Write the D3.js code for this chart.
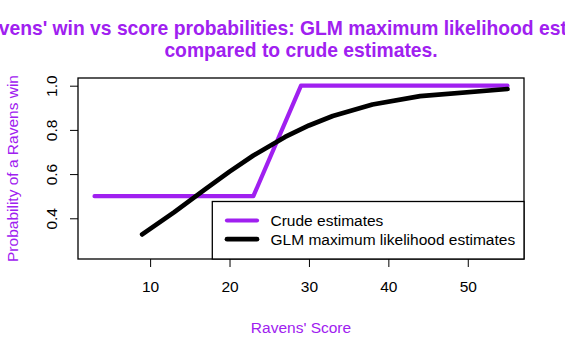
<!DOCTYPE html>
<html><head><meta charset="utf-8">
<script src="https://cdn.jsdelivr.net/npm/d3@7"></script>
<style>body{margin:0;background:#fff}svg{display:block}text{font-family:"Liberation Sans",Arial,sans-serif}</style>
</head><body><svg id="c" width="565" height="357"></svg>
<script>
const crudeScores = [3, 23, 29, 55];
const crudeProbs = [0.5, 0.5, 1.0, 1.0];
const glmScores = [9, 13, 17, 20, 23, 27, 30, 33, 38, 44, 55];
const glmProbs = [0.327, 0.427, 0.533, 0.611, 0.684, 0.768, 0.820, 0.863, 0.915, 0.953, 0.985];
const xTicks = [10, 20, 30, 40, 50];
const yTicks = [0.4, 0.6, 0.8, 1.0];
const legendLabels = ["Crude estimates", "GLM maximum likelihood estimates"];
const titleLines = ["Ravens' win vs score probabilities: GLM maximum likelihood estimates", "compared to crude estimates."];

const purple = "#a020f0";
const svg = d3.select("#c");
const L = 78, R = 524, T = 78, B = 259;
const x = d3.scaleLinear().domain([0.92, 57.08]).range([L, R]);
const y = d3.scaleLinear().domain([0.2158, 1.0348]).range([B, T]);
const fs = "15.5px";

// title
svg.append("g").selectAll("text").data(titleLines).join("text")
  .attr("x", (L + R) / 2).attr("y", (d, i) => 34.5 + i * 22.7)
  .attr("text-anchor", "middle").attr("font-weight", "bold").attr("font-size", "19.3px")
  .attr("fill", purple).text(d => d);

// axes
const xa = svg.append("g").attr("transform", `translate(0,${B})`)
  .call(d3.axisBottom(x).tickValues(xTicks).tickSize(8).tickPadding(14).tickFormat(d3.format("d")));
xa.select(".domain").remove();
xa.selectAll("text").attr("font-size", fs).attr("fill", "#000").attr("font-family", "Liberation Sans, Arial, sans-serif");
xa.selectAll("line").attr("stroke", "#000");

const ya = svg.append("g").attr("transform", `translate(${L},0)`)
  .call(d3.axisLeft(y).tickValues(yTicks).tickSize(8).tickFormat(d3.format(".1f")));
ya.select(".domain").remove();
ya.selectAll("line").attr("stroke", "#000");
ya.selectAll("text").attr("font-size", fs).attr("fill", "#000").attr("font-family", "Liberation Sans, Arial, sans-serif")
  .attr("text-anchor", "middle").attr("dy", null).attr("x", null)
  .attr("transform", "translate(-21.5,0) rotate(-90)").attr("dy", "0");

// box
svg.append("rect").attr("x", L).attr("y", T).attr("width", R - L).attr("height", B - T)
  .attr("fill", "none").attr("stroke", "#000").attr("stroke-width", 1.3);

const line = d3.line().x(d => x(d[0])).y(d => y(d[1]));
const crude = crudeScores.map((s, i) => [s, crudeProbs[i]]);
const glm = glmScores.map((s, i) => [s, glmProbs[i]]);

svg.append("path").attr("d", line(crude)).attr("fill", "none").attr("stroke", purple)
  .attr("stroke-width", 4.2).attr("stroke-linecap", "round").attr("stroke-linejoin", "round");
svg.append("path").attr("d", line(glm)).attr("fill", "none").attr("stroke", "#000")
  .attr("stroke-width", 4.7).attr("stroke-linecap", "round").attr("stroke-linejoin", "round");

// legend
const lg = svg.append("g");
lg.append("rect").attr("x", 212.3).attr("y", 201.5).attr("width", R - 212.3).attr("height", B - 201.5)
  .attr("fill", "#fff").attr("stroke", "#000").attr("stroke-width", 1.3);
const legendColors = [purple, "#000"];
const ly = [220.5, 239.2];
lg.selectAll("line.k").data(legendLabels).join("line").attr("class", "k")
  .attr("x1", 227).attr("x2", 257).attr("y1", (d, i) => ly[i]).attr("y2", (d, i) => ly[i])
  .attr("stroke", (d, i) => legendColors[i]).attr("stroke-width", (d, i) => i ? 4.7 : 4.2).attr("stroke-linecap", "round");
lg.selectAll("text").data(legendLabels).join("text")
  .attr("x", 270.5).attr("y", (d, i) => ly[i] + 5.5).attr("font-size", fs).attr("fill", "#000").text(d => d);

// axis titles
svg.append("text").attr("x", (L + R) / 2).attr("y", 333).attr("text-anchor", "middle")
  .attr("font-size", fs).attr("fill", purple).text("Ravens' Score");
svg.append("text").attr("transform", `translate(18,${(T + B) / 2}) rotate(-90)`).attr("text-anchor", "middle")
  .attr("font-size", fs).attr("fill", purple).text("Probability of a Ravens win");
</script></body></html>
